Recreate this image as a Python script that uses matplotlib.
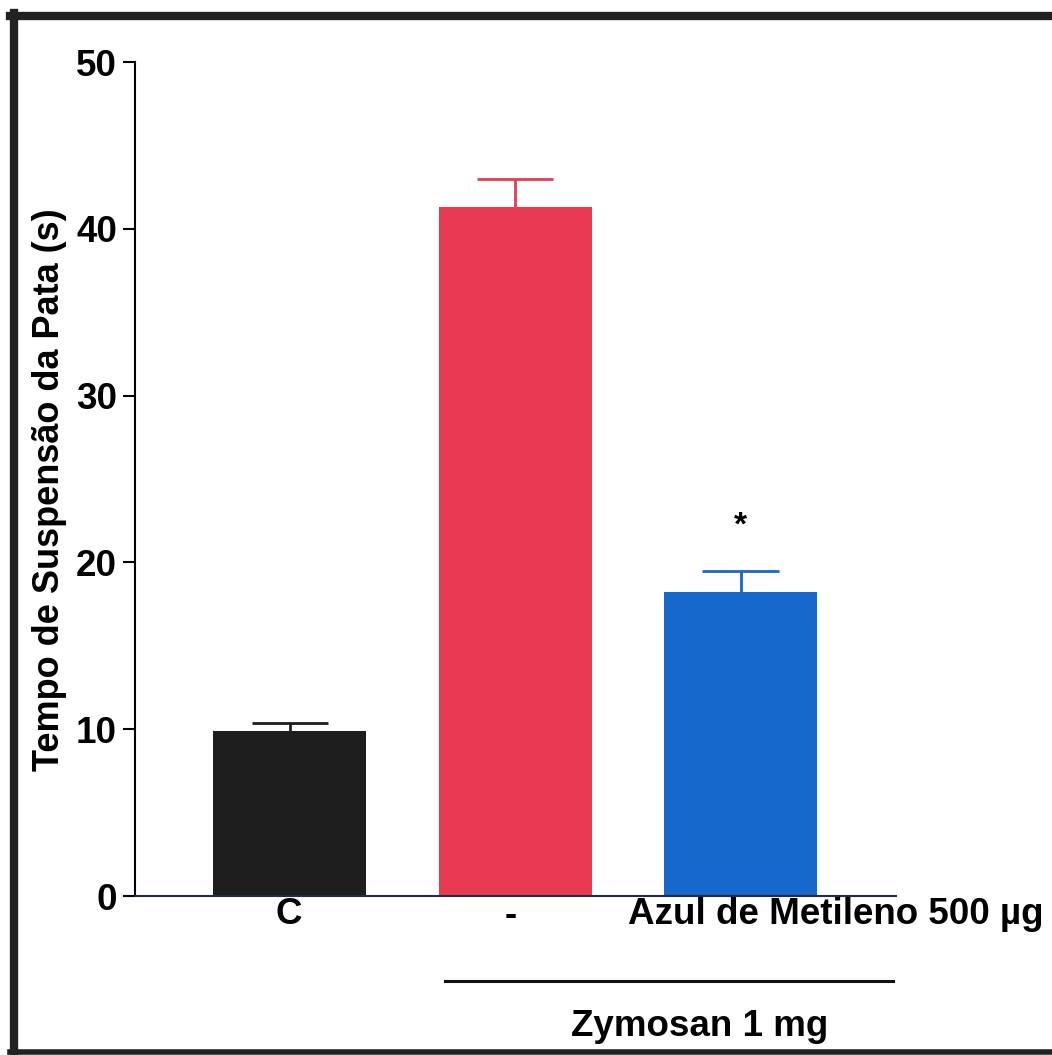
import matplotlib
matplotlib.use("Agg")
import matplotlib.pyplot as plt
from matplotlib.lines import Line2D

plt.rcParams['font.family'] = ['Liberation Sans', 'DejaVu Sans']
plt.rcParams['font.weight'] = 'bold'

categories = ['C', '-', 'Azul de Metileno 500 \u00b5g']
values = [9.9, 41.3, 18.2]
errors = [0.5, 1.7, 1.3]
colors = ['#1e1e1e', '#e83a50', '#1668cc']
group_label = 'Zymosan 1 mg'
ylabel = 'Tempo de Suspens\u00e3o da Pata (s)'
yticks = [0, 10, 20, 30, 40, 50]
star_y = 22.2

W, H = 1052, 1055
fig = plt.figure(figsize=(W / 100, H / 100), dpi=100)

def fx(px):
    return px / W

def fy(py):
    return 1 - py / H

FS = 26.5

ax = fig.add_axes([fx(135), fy(896), fx(896) - fx(135), fy(62) - fy(896)])
x = [0, 1, 2]
bw = 0.68
cap = 0.17
ax.bar(x, values, width=bw, color=colors, zorder=2)
for xi, v, e, c in zip(x, values, errors, colors):
    ax.vlines(xi, v, v + e, color=c, lw=2.0, zorder=1)
    ax.hlines(v + e, xi - cap, xi + cap, color=c, lw=2.0, zorder=1)
ax.text(2, star_y, '*', ha='center', va='center', fontsize=24, fontweight='bold')

ax.set_xlim(-0.687, 2.69)
ax.set_ylim(0, 50)
ax.set_yticks(yticks)
ax.set_yticklabels([str(t) for t in yticks], fontsize=FS, fontweight='bold')
ax.tick_params(axis='y', length=9, width=1.5, pad=4)
ax.set_xticks([])
for s in ['top', 'right']:
    ax.spines[s].set_visible(False)
ax.spines['left'].set_linewidth(1.5)
ax.spines['bottom'].set_linewidth(1.5)
ax.spines['bottom'].set_color('#1f2d4a')

fig.text(fx(50), fy(490), ylabel, rotation=90, ha='center', va='center',
         fontsize=FS - 0.5, fontweight='bold')

# category labels
fig.text(fx(289), fy(915), categories[0], ha='center', va='center', fontsize=FS, fontweight='bold')
fig.text(fx(511), fy(915), categories[1], ha='center', va='center', fontsize=FS, fontweight='bold')
fig.text(fx(836), fy(915), categories[2], ha='center', va='center', fontsize=FS, fontweight='bold')

# group line and label
fig.add_artist(Line2D([fx(445), fx(893)], [fy(981), fy(981)], color='#111111', lw=2.2))
fig.text(fx(700), fy(1027), group_label, ha='center', va='center', fontsize=FS, fontweight='bold')

# frame
fc = '#222222'
fig.add_artist(Line2D([fx(10), fx(W)], [fy(16), fy(16)], color=fc, lw=6))
fig.add_artist(Line2D([fx(14), fx(14)], [fy(13), fy(H)], color=fc, lw=6))
fig.add_artist(Line2D([fx(10), fx(W)], [fy(1052), fy(1052)], color=fc, lw=4))

fig.savefig('out.png', dpi=100)
